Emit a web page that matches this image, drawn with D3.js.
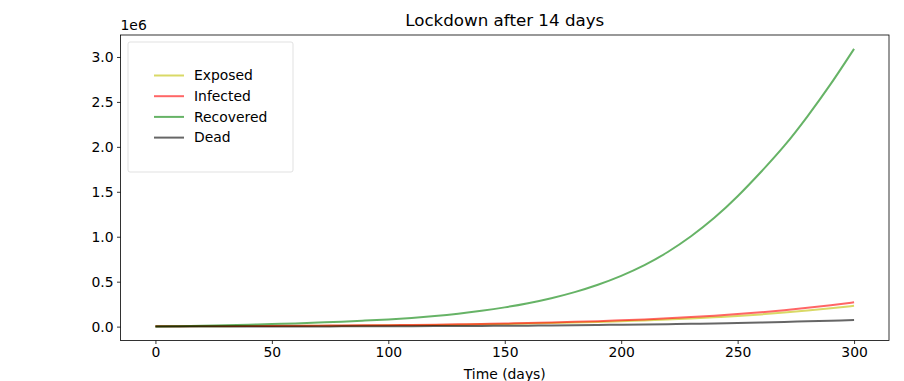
<!DOCTYPE html>
<html>
<head>
<meta charset="utf-8">
<script src="https://cdn.jsdelivr.net/npm/d3@7"></script>
<style>
  body { margin: 0; background: #fff; }
  svg { font-family: "DejaVu Sans", sans-serif; }
</style>
</head>
<body>
<svg id="drawing_region"></svg>
<script>
// values, in units of 1e6
const days = d3.range(0, 301, 10);
const exposed = [0.003,0.004,0.005,0.005,0.006,0.007,0.008,0.009,0.010,0.012,0.014,0.016,0.019,0.022,0.025,0.029,
                 0.034,0.039,0.045,0.052,0.060,0.069,0.079,0.090,0.104,0.119,0.136,0.156,0.178,0.203,0.231];
const infected = [0.004,0.005,0.006,0.006,0.007,0.008,0.009,0.011,0.012,0.014,0.016,0.019,0.022,0.025,0.029,0.034,
                  0.040,0.046,0.053,0.061,0.070,0.080,0.092,0.106,0.122,0.140,0.160,0.183,0.209,0.238,0.270];
const recovered = [0,0.005,0.010,0.016,0.022,0.029,0.036,0.045,0.055,0.067,0.080,0.097,0.118,0.144,0.176,0.214,
                   0.260,0.316,0.384,0.466,0.565,0.684,0.830,1.005,1.21,1.45,1.72,2.01,2.34,2.70,3.09];
const dead = [0,0,0.0005,0.001,0.001,0.0015,0.002,0.002,0.003,0.003,0.004,0.005,0.006,0.007,0.008,0.010,
              0.011,0.013,0.015,0.018,0.021,0.024,0.027,0.031,0.036,0.041,0.046,0.052,0.059,0.066,0.074];
const xticks = [0, 50, 100, 150, 200, 250, 300];
const yticks = [0, 0.5, 1.0, 1.5, 2.0, 2.5, 3.0];

const series = [
    {label: 'Exposed', values: exposed, color: '#bfbf00'},
    {label: 'Infected', values: infected, color: 'red'},
    {label: 'Recovered', values: recovered, color: 'green'},
    {label: 'Dead', values: dead, color: 'black'}
];

const config = {
    width: 904,
    height: 381,
    margin: {top: 35, right: 15, bottom: 40.5, left: 120.5}
};

const svg = d3.select('#drawing_region')
    .attr('width', config.width)
    .attr('height', config.height);

const inner_width = config.width - config.margin.left - config.margin.right;
const inner_height = config.height - config.margin.top - config.margin.bottom;

const chart = svg.append('g')
    .attr('transform', `translate(${config.margin.left}, ${config.margin.top})`);

// matplotlib style 5% margins
const xext = d3.extent(days);
const xpad = (xext[1] - xext[0]) * 0.05;
const allv = series.flatMap(s => s.values);
const yext = d3.extent(allv);
const ypad = (yext[1] - yext[0]) * 0.05;

const xscale = d3.scaleLinear()
    .domain([xext[0] - xpad, xext[1] + xpad])
    .range([0, inner_width]);

const yscale = d3.scaleLinear()
    .domain([yext[0] - ypad, yext[1] + ypad])
    .range([inner_height, 0]);

const line = d3.line()
    .x((d, i) => xscale(days[i]))
    .y(d => yscale(d))
    .curve(d3.curveNatural);

chart.selectAll('path.series')
    .data(series)
    .enter()
    .append('path')
    .attr('class', 'series')
    .attr('d', d => line(d.values))
    .attr('fill', 'none')
    .attr('stroke', d => d.color)
    .attr('stroke-opacity', 0.6)
    .attr('stroke-width', 2);

// axes
const xaxis = d3.axisBottom(xscale)
    .tickValues(xticks)
    .tickSize(3.5)
    .tickPadding(3.5)
    .tickSizeOuter(0);

const yaxis = d3.axisLeft(yscale)
    .tickValues(yticks)
    .tickFormat(d3.format('.1f'))
    .tickSize(3.5)
    .tickPadding(3.5)
    .tickSizeOuter(0);

const xaxis_group = chart.append('g')
    .attr('transform', `translate(0, ${inner_height})`)
    .call(xaxis);

const yaxis_group = chart.append('g')
    .call(yaxis);

[xaxis_group, yaxis_group].forEach(g => {
    g.select('.domain').remove();
    g.selectAll('line').attr('stroke', '#000').attr('stroke-width', 0.8);
    g.selectAll('text').attr('font-size', 13.9).attr('fill', '#000')
        .attr('font-family', '"DejaVu Sans", sans-serif');
});

// frame
chart.append('rect')
    .attr('x', 0)
    .attr('y', 0)
    .attr('width', inner_width)
    .attr('height', inner_height)
    .attr('fill', 'none')
    .attr('stroke', '#000')
    .attr('stroke-width', 0.8);

// legend
const legend = chart.append('g')
    .attr('transform', 'translate(7.5, 7)');

legend.append('rect')
    .attr('x', 0)
    .attr('y', 0)
    .attr('width', 165)
    .attr('height', 130)
    .attr('rx', 2)
    .attr('fill', '#fff')
    .attr('fill-opacity', 0.8)
    .attr('stroke', '#d9d9d9')
    .attr('stroke-width', 0.8);

const items = legend.selectAll('g.item')
    .data(series)
    .enter()
    .append('g')
    .attr('class', 'item')
    .attr('transform', (d, i) => `translate(26, ${33.5 + i * 20.7})`);

items.append('line')
    .attr('x1', 0)
    .attr('x2', 30)
    .attr('stroke', d => d.color)
    .attr('stroke-opacity', 0.6)
    .attr('stroke-width', 2);

items.append('text')
    .attr('x', 40)
    .attr('dy', '0.35em')
    .attr('font-size', 13.9)
    .text(d => d.label);

// texts
svg.append('text')
    .attr('x', config.margin.left + inner_width / 2)
    .attr('y', 26)
    .attr('text-anchor', 'middle')
    .attr('font-size', 16.7)
    .text('Lockdown after 14 days');

svg.append('text')
    .attr('x', config.margin.left)
    .attr('y', 30)
    .attr('font-size', 13.9)
    .text('1e6');

svg.append('text')
    .attr('x', config.margin.left + inner_width / 2)
    .attr('y', 379)
    .attr('text-anchor', 'middle')
    .attr('font-size', 13.9)
    .text('Time (days)');
</script>
</body>
</html>
